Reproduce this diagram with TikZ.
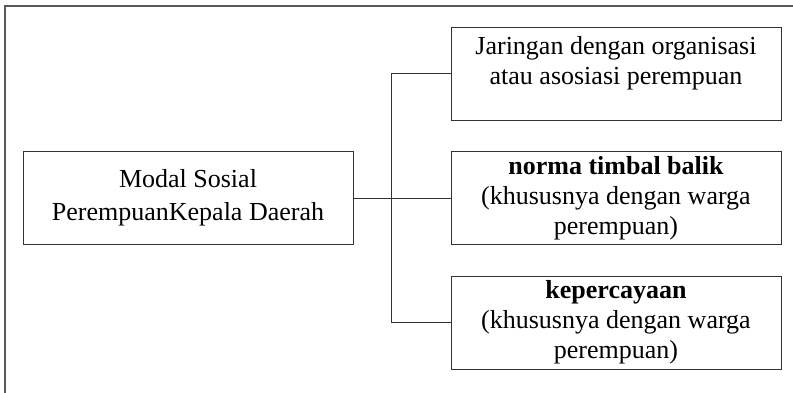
\documentclass[tikz,border=0pt]{standalone}
\usepackage{fontspec}
\setmainfont{Liberation Serif}
\tikzset{
    box/.style={draw=black!80, line width=0.9pt, minimum width=330pt, minimum height=93pt, inner sep=0pt, align=center},
    boxtext/.style={font=\fontsize{26}{30}\selectfont, align=center, inner sep=0pt},
    link/.style={draw=black!80, line width=0.9pt}
}
\begin{document}
\begin{tikzpicture}[x=1pt, y=-1pt]
    \useasboundingbox (0,0) rectangle (793,392);
    \draw[black!65, line width=1.2pt] (5,6) rectangle (805,405);

    \node[box, boxtext, font=\fontsize{26}{33}\selectfont] (modal) at (188,198) {Modal Sosial\\PerempuanKepala Daerah};
    \node[box] (jaringan) at (616,73.5) {};
    \node[boxtext, anchor=north] (jaringantxt) at ([yshift=-10pt]jaringan.north) {Jaringan dengan organisasi\\atau asosiasi perempuan};
    \node[box, boxtext] (norma) at (616,198) {\textbf{norma timbal balik}\\(khususnya dengan warga\\perempuan)};
    \node[box, boxtext] (kepercayaan) at (616,322.5) {\textbf{kepercayaan}\\(khususnya dengan warga\\perempuan)};

    \coordinate (hub) at (391,198);
    \draw[link] (modal.east) -- (hub);
    \foreach \b in {jaringan,norma,kepercayaan} \draw[link] (\b.west) -| (hub);
\end{tikzpicture}
\end{document}
